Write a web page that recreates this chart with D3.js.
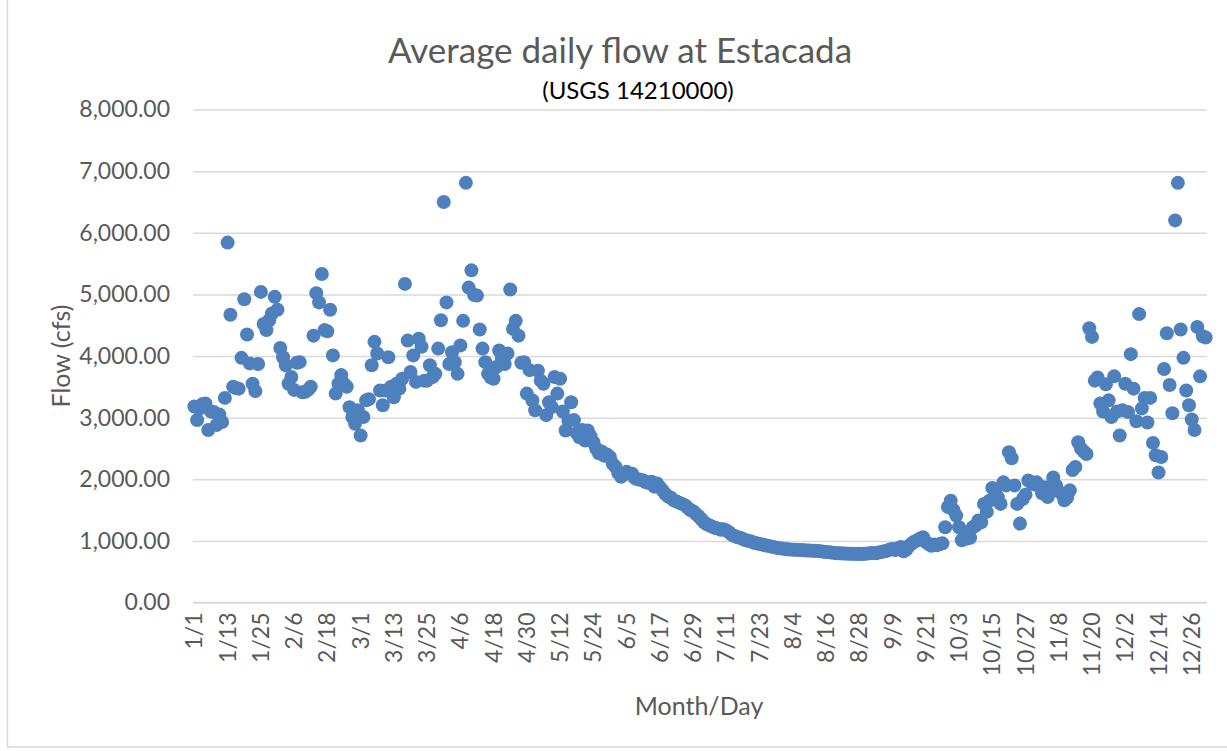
<!DOCTYPE html>
<html>
<head>
<meta charset="utf-8">
<script src="https://cdn.jsdelivr.net/npm/d3@7"></script>
<style>
  html, body { margin: 0; padding: 0; background: #fff; }
  svg { display: block; font-family: Lato, "Open Sans", sans-serif; }
</style>
</head>
<body>
<svg id="chart" width="1227" height="751"></svg>
<script>
// ---- data ----
const title = "Average daily flow at Estacada";
const subtitle = "(USGS 14210000)";
const xTitle = "Month/Day";
const yTitle = "Flow (cfs)";
const yTicks = [0, 1000, 2000, 3000, 4000, 5000, 6000, 7000, 8000];
const labelEvery = 12;

// daily average flow (cfs), Jan 1 .. Dec 31 (leap year, 366 days)
const flowJan = [3180,2960,3150,3220,3230,2800,3100,3090,2880,3050,2930,3320,5840,4670,3500,3480,3470,3970,4920,4350,3880,3550,3430,3870,5040,4520,4420,4580,4690,4960,4750];
const flowFeb = [4130,3980,3850,3550,3660,3450,3890,3900,3410,3420,3450,3500,4330,5020,4870,5330,4420,4400,4750,4010,3390,3550,3690,3550,3500,3170,3010,2900,3120];
const flowMar = [2710,3010,3280,3300,3850,4230,4040,3440,3200,3440,3980,3500,3330,3550,3470,3630,5170,4250,3740,4010,3580,4280,4150,3600,3600,3850,3660,3710,4120,4580,6500];
const flowApr = [4870,3870,4060,3900,3710,4170,4570,6810,5110,5390,4990,4980,4430,4120,3900,3710,3650,3630,3820,4090,3950,3870,4040,5080,4440,4570,4330,3890,3900,3390];
const flowMay = [3770,3280,3120,3760,3600,3550,3040,3250,3170,3660,3390,3630,3100,2790,2950,3250,2960,2750,2680,2800,2630,2790,2700,2600,2500,2420,2450,2380,2400,2360,2250];
const flowJun = [2200,2100,2040,2080,2120,2090,2090,2020,2000,1990,1980,1950,1940,1960,1880,1930,1870,1820,1760,1720,1700,1660,1640,1620,1600,1580,1540,1500,1480,1440];
const flowJul = [1400,1350,1300,1270,1250,1230,1210,1200,1180,1190,1170,1140,1100,1080,1060,1050,1030,1010,1000,990,970,960,950,940,930,920,910,900,890,880,875];
const flowAug = [870,865,860,858,855,852,850,848,845,843,840,838,835,830,825,820,815,810,805,800,800,795,795,790,790,790,785,790,785,790,795];
const flowSep = [800,805,800,810,820,830,840,860,870,850,880,900,830,860,920,960,990,1010,1040,1060,980,950,920,940,930,950,960,1220,1550,1650];
const flowOct = [1500,1410,1220,1010,1100,1040,1050,1220,1250,1330,1300,1600,1470,1650,1860,1800,1710,1600,1950,1900,2440,2340,1900,1600,1280,1680,1750,1980,1950,1920,1950];
const flowNov = [1880,1770,1870,1710,1850,2030,1900,1800,1770,1660,1700,1820,2150,2200,2600,2500,2450,2410,4450,4310,3600,3650,3230,3100,3540,3280,3010,3670,3100,2710];
const flowDec = [3120,3550,3090,4030,3470,2940,4680,3150,3320,2920,3320,2590,2390,2110,2360,3790,4370,3530,3070,6200,6810,4430,3970,3440,3200,2970,2800,4470,3670,4320,4300];

const monthLengths = [31,29,31,30,31,30,31,31,30,31,30,31];
const flows = [].concat(flowJan, flowFeb, flowMar, flowApr, flowMay, flowJun, flowJul, flowAug, flowSep, flowOct, flowNov, flowDec);
const days = [];
monthLengths.forEach((n, m) => { for (let d = 1; d <= n; d++) days.push((m + 1) + "/" + d); });
const data = days.map((d, i) => ({ day: d, flow: flows[i] }));

// ---- layout ----
const svg = d3.select("#chart");
const W = 1227, H = 751;
const plot = { left: 193, right: 1207, top: 109.5, bottom: 602.5 };
const textColor = "#595959";
const gridColor = "#d9d9d9";
const dotColor = "#4e80bd";

svg.append("rect").attr("x", 7.5).attr("y", -1).attr("width", W + 2).attr("height", 748)
  .attr("fill", "#fff").attr("stroke", "#d9d9d9").attr("stroke-width", 1.5);

const x = d3.scaleBand().domain(days).range([plot.left, plot.right]).padding(0);
const y = d3.scaleLinear().domain([0, 8000]).range([plot.bottom, plot.top]);

// gridlines + y labels
const yAxis = d3.axisLeft(y).tickValues(yTicks).tickSize(-(plot.right - plot.left))
  .tickPadding(23).tickFormat(d3.format(",.2f"));
const gy = svg.append("g").attr("transform", `translate(${plot.left},0)`).call(yAxis);
gy.select(".domain").remove();
gy.selectAll(".tick line").attr("stroke", gridColor).attr("stroke-width", 1.5);
gy.selectAll(".tick text").attr("fill", textColor).style("font-size", "23px")
  .style("font-family", "Lato, sans-serif");

// x axis
const xAxis = d3.axisBottom(x).tickValues(days.filter((d, i) => i % labelEvery === 0))
  .tickSize(0).tickPadding(0);
const gx = svg.append("g").attr("transform", `translate(0,${plot.bottom})`).call(xAxis);
gx.select(".domain").attr("stroke", gridColor).attr("stroke-width", 1.5)
  .attr("d", `M${plot.left},0H${plot.right}`);
gx.selectAll(".tick text")
  .attr("fill", textColor).style("font-size", "23px").style("font-family", "Lato, sans-serif")
  .attr("transform", "rotate(-90)")
  .attr("text-anchor", "end")
  .attr("x", -10).attr("y", 0).attr("dy", "0.35em");

// points
svg.append("g").selectAll("circle").data(data).join("circle")
  .attr("cx", d => x(d.day) + x.bandwidth() / 2)
  .attr("cy", d => y(d.flow))
  .attr("r", 7)
  .attr("fill", dotColor);

// titles
svg.append("text").attr("x", 620).attr("y", 63).attr("text-anchor", "middle")
  .attr("fill", textColor).style("font-size", "35px").text(title);
svg.append("text").attr("x", 638).attr("y", 99).attr("text-anchor", "middle")
  .attr("fill", "#000").style("font-size", "24px").text(subtitle);
svg.append("text").attr("x", 699).attr("y", 715).attr("text-anchor", "middle")
  .attr("fill", textColor).style("font-size", "25px").text(xTitle);
svg.append("text").attr("transform", "translate(70,356) rotate(-90)").attr("text-anchor", "middle")
  .attr("fill", textColor).style("font-size", "25px").text(yTitle);
</script>
</body>
</html>
